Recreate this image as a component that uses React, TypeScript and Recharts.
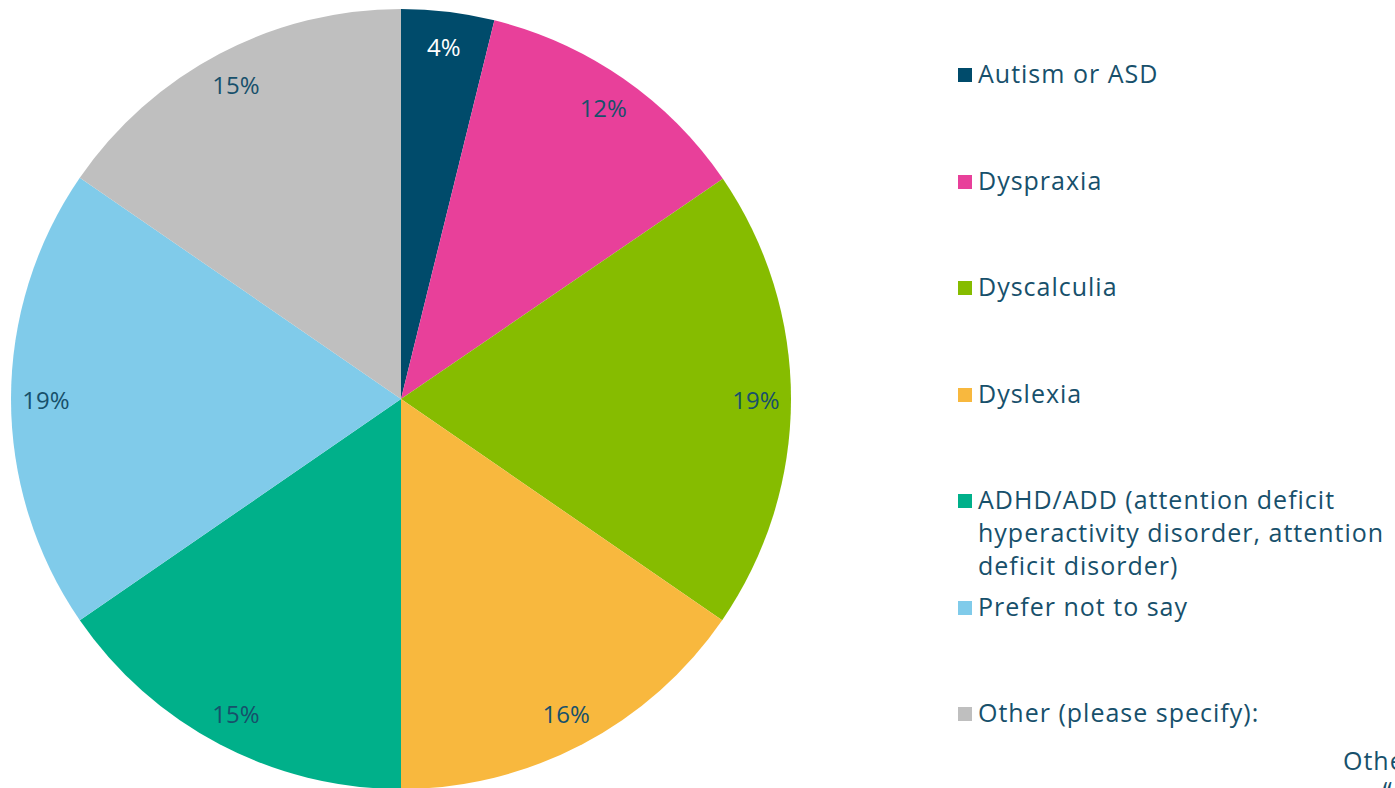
import React from "react";
import { PieChart, Pie, Cell, Legend } from "recharts";

const categories = [
  "Autism or ASD",
  "Dyspraxia",
  "Dyscalculia",
  "Dyslexia",
  "ADHD/ADD (attention deficit hyperactivity disorder, attention deficit disorder)",
  "Prefer not to say",
  "Other (please specify):",
];
// slice sizes
const values = [3.85, 11.6, 19.15, 15.4, 15.4, 19.2, 15.4];
// percentage labels as printed on the slices
const labels = ["4%", "12%", "19%", "16%", "15%", "19%", "15%"];
const colors = ["#004B6B", "#E8409A", "#86BC00", "#F8B83E", "#00B08A", "#80CBEA", "#BFBFBF"];
const legendLines = [
  ["Autism or ASD"],
  ["Dyspraxia"],
  ["Dyscalculia"],
  ["Dyslexia"],
  ["ADHD/ADD (attention deficit", "hyperactivity disorder, attention", "deficit disorder)"],
  ["Prefer not to say"],
  ["Other (please specify):"],
];

const data = categories.map((name, i) => ({ name, value: values[i], label: labels[i] }));

const TEXT = "#17506B";
const FONT = "'Open Sans', sans-serif";
const RADIAN = Math.PI / 180;

const renderLabel = (props: any) => {
  const { cx, cy, midAngle, index } = props;
  const r = 355;
  const x = cx + r * Math.cos(-midAngle * RADIAN);
  const y = cy + r * Math.sin(-midAngle * RADIAN);
  return (
    <text
      x={x}
      y={y}
      textAnchor="middle"
      dominantBaseline="central"
      fill={index === 0 ? "#FFFFFF" : TEXT}
      fontSize={24}
      fontFamily={FONT}
    >
      {labels[index]}
    </text>
  );
};

const LegendContent = () => (
  <div style={{ fontFamily: FONT, color: TEXT, fontSize: 25, letterSpacing: 1 }}>
    {legendLines.map((lines, i) => {
      const top = [57, 164, 270, 377, 483, 590, 696][i];
      return (
        <div key={i} style={{ position: "absolute", left: 0, top, width: 440 }}>
          <div
            style={{
              position: "absolute",
              left: 3,
              top: 11,
              width: 14,
              height: 14,
              background: colors[i],
            }}
          />
          <div style={{ marginLeft: 23, lineHeight: "33px", whiteSpace: "nowrap" }}>
            {lines.map((l, j) => (
              <div key={j}>{l}</div>
            ))}
          </div>
        </div>
      );
    })}
  </div>
);

export default function App() {
  return (
    <div style={{ position: "fixed", left: 0, top: 0, width: 1395, height: 788, background: "#fff", overflow: "hidden" }}>
      <PieChart width={1395} height={788} margin={{ top: 0, right: 0, bottom: 0, left: 0 }}>
        <Pie
          data={data}
          dataKey="value"
          nameKey="name"
          cx={401}
          cy={399}
          outerRadius={390}
          startAngle={90}
          endAngle={-270}
          stroke="none"
          label={renderLabel}
          labelLine={false}
          isAnimationActive={false}
        >
          {data.map((d, i) => (
            <Cell key={d.name} fill={colors[i]} />
          ))}
        </Pie>
        <Legend
          content={<LegendContent />}
          wrapperStyle={{ position: "absolute", left: 955, top: 0, width: 440, height: 788 }}
        />
      </PieChart>
      <div
        style={{
          position: "absolute",
          left: 1343,
          top: 745,
          fontFamily: FONT,
          color: TEXT,
          fontSize: 25,
          letterSpacing: 1,
          lineHeight: "30px",
          whiteSpace: "nowrap",
        }}
      >
        <div>Other</div>
        <div style={{ marginLeft: 40 }}>“</div>
      </div>
    </div>
  );
}
